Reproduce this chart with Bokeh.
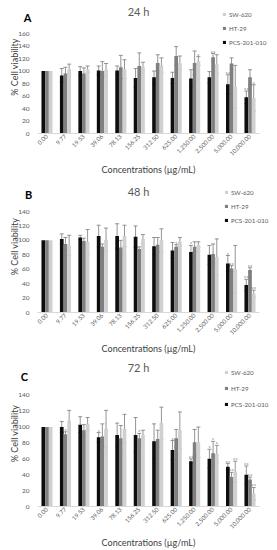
import math
import numpy as np
from bokeh.plotting import figure
from bokeh.models import (ColumnDataSource, FactorRange, Range1d, Whisker,
                          Legend, LegendItem, Label, FixedTicker)
from bokeh.transform import dodge
from bokeh.layouts import column
from bokeh.embed import file_html
from bokeh.resources import INLINE
from bokeh.core.properties import value

# ---------------- data ----------------
concentrations = ["0.00", "9.77", "19.53", "39.06", "78.13", "156.25", "312.50",
                  "625.00", "1,250.00", "2,500.00", "5,000.00", "10,000.00"]
series_names = ["PCS-201-010", "HT-29", "SW-620"]

# 24 h
pcs_24 = [100, 93, 100, 101, 101, 89, 90, 89, 88, 90, 79, 58]
pcs_24_sd = [0, 11, 7, 7, 7, 15, 10, 9, 14, 9, 15, 10]
ht_24 = [100, 96, 96, 100, 106, 108, 113, 124, 113, 122, 112, 90]
ht_24_sd = [0, 10, 9, 15, 19, 21, 13, 15, 19, 6, 9, 12]
sw_24 = [100, 103, 103, 102, 103, 107, 109, 113, 116, 111, 75, 57]
sw_24_sd = [0, 8, 5, 10, 15, 7, 12, 11, 7, 15, 34, 21]
pcs_24_sig = ["", "", "", "", "", "", "", "", "", "", "**", "**"]
ht_24_sig = ["", "", "", "", "", "", "", "", "", "**", "", ""]
sw_24_sig = ["", "", "", "", "", "", "", "", "*", "", "", "*"]

# 48 h
pcs_48 = [100, 102, 104, 106, 106, 105, 92, 86, 84, 80, 68, 38]
pcs_48_sd = [0, 7, 3, 15, 17, 15, 12, 11, 9, 13, 11, 8]
ht_48 = [100, 95, 99, 91, 90, 88, 94, 91, 91, 81, 61, 59]
ht_48_sd = [0, 9, 4, 4, 10, 3, 10, 3, 7, 14, 4, 3]
sw_48 = [100, 93, 98, 101, 106, 102, 100, 98, 94, 77, 60, 26]
sw_48_sd = [0, 14, 17, 16, 15, 6, 16, 6, 4, 25, 33, 5]
pcs_48_sig = ["", "", "", "", "", "", "", "", "*", "", "*", "**"]
ht_48_sig = ["", "", "", "", "", "", "", "*", "", "", "**", "**"]
sw_48_sig = ["", "", "", "", "", "", "", "", "", "", "", "**"]

# 72 h
pcs_72 = [100, 100, 103, 87, 90, 90, 82, 71, 57, 60, 50, 40]
pcs_72_sd = [0, 7, 10, 6, 15, 22, 22, 12, 3, 12, 4, 11]
ht_72 = [100, 91, 96, 88, 86, 86, 85, 86, 81, 67, 37, 34]
ht_72_sd = [0, 3, 7, 16, 16, 6, 11, 11, 16, 15, 6, 3]
sw_72 = [100, 108, 104, 98, 98, 90, 105, 96, 81, 66, 44, 16]
sw_72_sd = [0, 13, 8, 23, 18, 6, 20, 23, 19, 11, 13, 8]
pcs_72_sig = ["", "", "", "*", "", "", "", "*", "**", "*", "**", "**"]
ht_72_sig = ["", "*", "", "", "", "*", "", "", "", "*", "**", "**"]
sw_72_sig = ["", "", "", "", "", "", "", "", "", "*", "**", "**"]

# ---------------- style ----------------
FONT = "Lato"
TXT = "#595959"
DARK = "#404040"
COLORS = ["#0d0d0d", "#7f7f7f", "#d0d0d0"]
OFFSETS = [-0.2, 0.0, 0.2]
WIDTH = 277
B_LEFT = 19      # the frame reaches past the plot area so that panel letter,
B_RIGHT = 0      # title and legend (all inside the frame) are not clipped
PAD = 0.99       # category units of padding on each side of the factor range


def panel(hours, letter, means, sds, sigs, ymax, height, b_bottom, tick_span,
          legend_xy, legend_spacing, letter_xy, title_xy):
    frame_h = height - b_bottom
    y_end = ymax * frame_h / tick_span      # room above the top tick for title/legend
    xr = FactorRange(*concentrations, range_padding=PAD,
                     range_padding_units="absolute")
    p = figure(x_range=xr, y_range=Range1d(0, y_end),
               width=WIDTH, height=height, output_backend="svg",
               toolbar_location=None, min_border_left=B_LEFT,
               min_border_right=B_RIGHT, min_border_top=0,
               min_border_bottom=b_bottom)
    p.title.visible = False
    p.outline_line_color = None
    p.grid.visible = False
    p.background_fill_color = "white"
    p.border_fill_color = "white"

    data = {"conc": concentrations}
    for k, (m, s, g) in enumerate(zip(means, sds, sigs)):
        data[f"m{k}"] = m
        data[f"up{k}"] = [v + e if e > 0 else np.nan for v, e in zip(m, s)]
        data[f"lo{k}"] = [v - e if e > 0 else np.nan for v, e in zip(m, s)]
        data[f"sy{k}"] = [v + e for v, e in zip(m, s)]
        data[f"sig{k}"] = g
    src = ColumnDataSource(data)

    rends = []
    for k in range(3):
        r = p.vbar(x=dodge("conc", OFFSETS[k], range=p.x_range), top=f"m{k}",
                   width=0.2, source=src, fill_color=COLORS[k], line_color=None)
        rends.append(r)
    for k in range(3):
        w = Whisker(base=dodge("conc", OFFSETS[k], range=p.x_range),
                    upper=f"up{k}", lower=f"lo{k}", source=src,
                    line_color="#7a7a7a", line_width=0.8)
        for h in (w.upper_head, w.lower_head):
            h.size = 4
            h.line_color = "#7a7a7a"
            h.line_width = 0.8
        p.add_layout(w)
    for k in range(3):
        p.text(x=dodge("conc", OFFSETS[k], range=p.x_range), y=f"sy{k}",
               text=f"sig{k}", source=src, text_font=value(FONT),
               text_font_size="6px", text_align="center",
               text_baseline="bottom", text_color=TXT, y_offset=2)

    # axes
    p.xaxis.bounds = (0, len(concentrations))   # axis line only under the categories
    p.xaxis.major_label_orientation = math.pi / 4
    p.xaxis.major_tick_out = 0
    p.xaxis.major_tick_in = 0
    p.xaxis.minor_tick_out = 0
    p.xaxis.major_tick_line_color = None
    p.xaxis.minor_tick_line_color = None
    p.xaxis.axis_line_color = "#d9d9d9"
    p.xaxis.major_label_text_font = FONT
    p.xaxis.major_label_text_font_size = "6px"
    p.xaxis.major_label_text_color = TXT
    p.xaxis.major_label_standoff = 2
    p.xaxis.axis_label = "Concentrations (µg/mL)"
    p.xaxis.axis_label_text_font = FONT
    p.xaxis.axis_label_text_font_size = "9px"
    p.xaxis.axis_label_text_font_style = "normal"
    p.xaxis.axis_label_text_color = DARK
    p.xaxis.axis_label_standoff = 3

    p.yaxis.ticker = FixedTicker(ticks=list(range(0, ymax + 1, 20)))
    p.yaxis.axis_line_color = None
    p.yaxis.major_tick_out = 0
    p.yaxis.major_tick_in = 0
    p.yaxis.minor_tick_out = 0
    p.yaxis.major_tick_line_color = None
    p.yaxis.minor_tick_line_color = None
    p.yaxis.major_label_text_font = FONT
    p.yaxis.major_label_text_font_size = "6.5px"
    p.yaxis.major_label_text_color = TXT
    p.yaxis.major_label_standoff = -10
    p.yaxis.axis_label = "% Cell viability"
    p.yaxis.axis_label_text_font = FONT
    p.yaxis.axis_label_text_font_size = "9px"
    p.yaxis.axis_label_text_font_style = "normal"
    p.yaxis.axis_label_text_color = DARK
    p.yaxis.axis_label_standoff = -5

    # title and panel letter (inside the frame, above the top tick)
    p.add_layout(Label(x=title_xy[0], y=title_xy[1], x_units="screen", y_units="screen",
                       text=f"{hours} h", text_font=FONT, text_font_size="11px",
                       text_color=TXT, text_align="center", text_baseline="middle"))
    p.add_layout(Label(x=letter_xy[0], y=letter_xy[1], x_units="screen", y_units="screen",
                       text=letter, text_font=FONT, text_font_size="11px",
                       text_font_style="bold", text_color="black",
                       text_align="center", text_baseline="middle"))

    legend = Legend(items=[LegendItem(label=series_names[2], renderers=[rends[2]]),
                           LegendItem(label=series_names[1], renderers=[rends[1]]),
                           LegendItem(label=series_names[0], renderers=[rends[0]])],
                    location=legend_xy, glyph_width=4, glyph_height=4,
                    label_height=8, label_width=44, label_standoff=3,
                    spacing=legend_spacing, padding=0, margin=0,
                    border_line_color=None, background_fill_alpha=0,
                    label_text_font=FONT, label_text_font_size="6.2px",
                    label_text_color=TXT)
    p.add_layout(legend)
    return p


# panel A: page y 0..180, frame bottom at 133, top tick (160) at 33
pA = panel(24, "A", [pcs_24, ht_24, sw_24], [pcs_24_sd, ht_24_sd, sw_24_sd],
           [pcs_24_sig, ht_24_sig, sw_24_sig], 160, 180, 47, 100,
           (222 - B_LEFT, 87), 6, (27 - B_LEFT, 133 - 17), (138 - B_LEFT, 133 - 11))
# panel B: page y 180..360, frame bottom at 312, top tick (140) at 211
pB = panel(48, "B", [pcs_48, ht_48, sw_48], [pcs_48_sd, ht_48_sd, sw_48_sd],
           [pcs_48_sig, ht_48_sig, sw_48_sig], 140, 180, 48, 101,
           (224 - B_LEFT, 88), 6, (28 - B_LEFT, 132 - 14), (138 - B_LEFT, 132 - 10.7))
# panel C: page y 360..550, frame bottom at 507, top tick (140) at 395
pC = panel(72, "C", [pcs_72, ht_72, sw_72], [pcs_72_sd, ht_72_sd, sw_72_sd],
           [pcs_72_sig, ht_72_sig, sw_72_sig], 140, 190, 43, 112,
           (224 - B_LEFT, 98), 8, (24 - B_LEFT, 147 - 16.7), (138 - B_LEFT, 147 - 8))

layout = column(pA, pB, pC)
open("out.html", "w").write(file_html(layout, INLINE))
